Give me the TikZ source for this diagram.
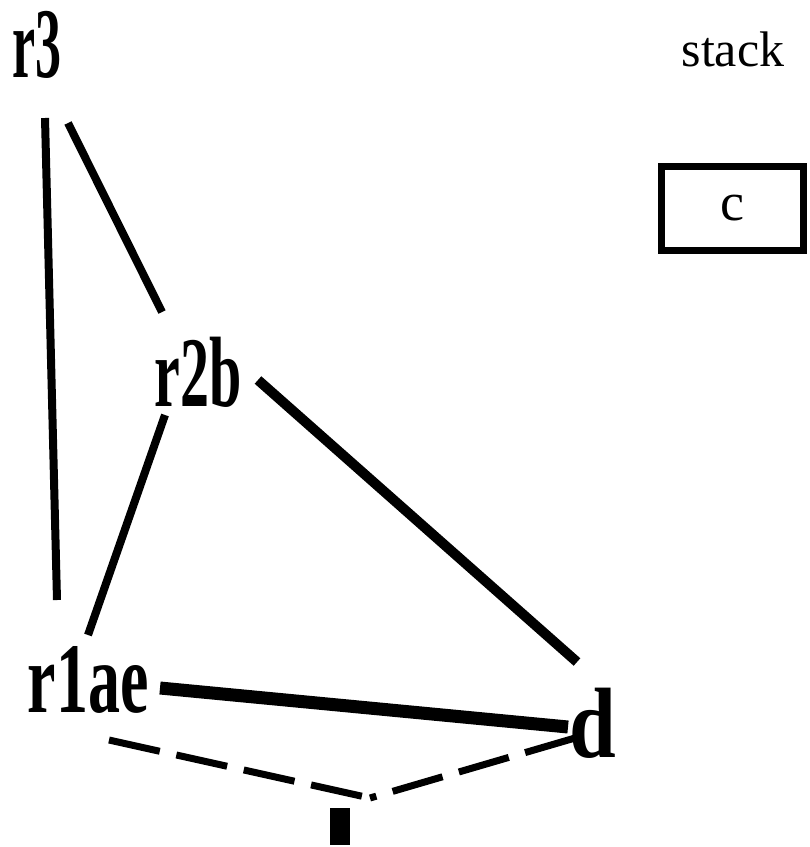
\documentclass[tikz,border=0pt]{standalone}
\usepackage{fontspec}
\setmainfont{Liberation Serif}

\begin{document}
\begin{tikzpicture}[x=1pt,y=-1pt,
  lbl/.style={inner sep=0pt,font=\fontsize{100}{100}\selectfont\bfseries},
  link/.style={line width=8pt},
  heavy/.style={line width=13pt},
  dashlink/.style={line width=7pt,dash pattern=on 52pt off 17pt}]
\useasboundingbox (0,0) rectangle (810,847);
% ---------- tree labels ----------
\node[lbl,xscale=0.52] (r3) at (37,45) {r3};
\node[lbl,xscale=0.58] (r2b) at (198,372) {r2b};
\node[lbl,xscale=0.64] (r1ae) at (88,680) {r1ae};
\node[lbl,xscale=0.84] (d) at (593,723) {d};
\node[fill=black,inner sep=0pt,minimum width=20pt,minimum height=37pt] (bot) at (340,826) {};
% ---------- stack ----------
\node[inner sep=0pt,font=\fontsize{50}{50}\selectfont] (stk) at (733,49) {stack};
\node[draw,line width=7pt,inner sep=0pt,minimum width=142pt,minimum height=84pt,
      font=\fontsize{54}{54}\selectfont] (c) at (732,208) {c};
% ---------- solid links ----------
\draw[link] ([shift={(8,73)}]r3.center) -- ([shift={(-31,-80)}]r1ae.center);
\draw[link] ([shift={(31,78)}]r3.center) -- ([shift={(-36,-60)}]r2b.center);
\draw[link] ([shift={(-33,43)}]r2b.center) -- ([shift={(0,-45)}]r1ae.center);
\draw[link,line width=10pt] ([shift={(60,8)}]r2b.center) -- ([shift={(-16,-61)}]d.center);
\draw[heavy] ([shift={(72,8)}]r1ae.center) -- ([shift={(-25,4)}]d.center);
% ---------- dashed links ----------
\draw[dashlink] ([shift={(21,60)}]r1ae.center) -- ([shift={(30,-28)}]bot.center);
\draw[dashlink] ([shift={(-18,15)}]d.center) -- ([shift={(30,-28)}]bot.center);
\end{tikzpicture}
\end{document}
